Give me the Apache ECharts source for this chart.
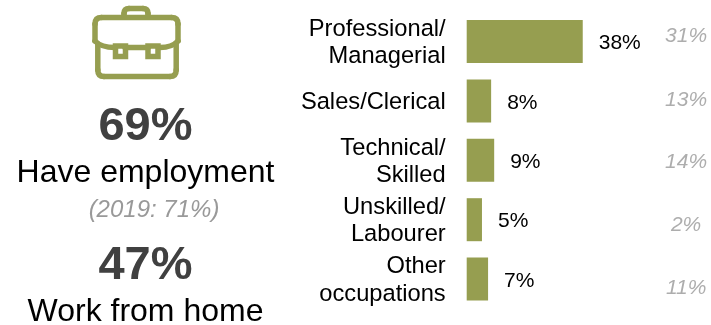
<!DOCTYPE html>
<html><head><meta charset="utf-8">
<style>html,body{margin:0;padding:0;background:#fff}#c{width:711px;height:325px}</style>
<script src="https://cdn.jsdelivr.net/npm/echarts@6/dist/echarts.min.js"></script></head>
<body><div id="c"></div>
<script>
const categories = ['Professional/\nManagerial','Sales/Clerical','Technical/\nSkilled','Unskilled/\nLabourer','Other\noccupations'];
const values2021 = [38,8,9,5,7];
const labels2019 = ['31%','13%','14%','2%','11%'];
const FONT = '"Liberation Sans", Arial, sans-serif';
const OLIVE = '#969e50';
const GREY = '#999999';
const GREY_OFFSET = [-5,-1,2,5,9];
const greyColumnX = 71.85;

const chart = echarts.init(document.getElementById('c'), null, {renderer:'canvas'});
const stroke = {stroke:OLIVE, lineWidth:5.5, fill:null, lineCap:'round', lineJoin:'round'};
const L = (x1,y1,x2,y2) => ({type:'line', shape:{x1,y1,x2,y2}, style:stroke});
const Q = (x1,y1,cpx1,cpy1,x2,y2) => ({type:'bezierCurve', shape:{x1,y1,cpx1,cpy1,x2,y2}, style:stroke});
function t(text,cy,o,x){ return {type:'text', x:x||145.5, y:cy, style:Object.assign({text, font:'32px '+FONT, fill:'#000', align:'center', verticalAlign:'middle'},o||{})}; }

chart.setOption({
  animation:false,
  grid:{left:466.7, top:11.8, width:246.4, height:297, containLabel:false},
  xAxis:{type:'value', min:0, max:80, show:false},
  yAxis:{type:'category', inverse:true, data:categories,
    axisLine:{show:false}, axisTick:{show:false},
    axisLabel:{interval:0, hideOverlap:false, margin:21, align:'right',
      formatter:v=>v.split('\n').map(s=>'{a|'+s+'}').join('\n'),
      rich:{a:{fontFamily:FONT, fontSize:23.7, lineHeight:27.5, padding:[3,0,0,0], color:'#000', align:'right'}}}},
  series:[
    {type:'bar', data:values2021, barWidth:43, itemStyle:{color:OLIVE},
     label:{show:true, position:'right', distance:16, offset:[0,2], formatter:'{c}%', fontFamily:FONT, fontSize:21, color:'#000'}},
    {type:'scatter', symbolSize:1, itemStyle:{color:'transparent'}, silent:true,
     data:labels2019.map((l,i)=>({value:[greyColumnX,i], label:{offset:[0,GREY_OFFSET[i]], formatter:l}})),
     label:{show:true, position:'inside', fontFamily:FONT, fontSize:21, fontStyle:'italic', color:GREY}}
  ],
  graphic:[
    {type:'group', silent:true, children:[
      // lid
      L(95,24,95,41), Q(95,24,95,17.5,101.5,17.5), L(101.5,17.5,171.5,17.5), Q(171.5,17.5,178,17.5,178,24), L(178,24,178,41),
      Q(95,41,101,47.5,115,47.5), Q(178,41,172,47.5,160,47.5), L(125,47.5,148,47.5),
      // handle
      L(124,16,124,13.5), Q(124,13.5,124,8.5,129,8.5), L(129,8.5,143,8.5), Q(143,8.5,148,8.5,148,13.5), L(148,13.5,148,16),
      // body
      L(97.8,44,97.8,70), Q(97.8,70,97.8,76.5,104,76.5), L(104,76.5,170,76.5), Q(170,76.5,176.2,76.5,176.2,70), L(176.2,70,176.2,44),
      // clasps
      {type:'rect', shape:{x:115.5,y:46,width:10,height:10.5}, style:Object.assign({},stroke,{lineCap:'butt',lineJoin:'miter'})},
      {type:'rect', shape:{x:148,y:46,width:10,height:10.5}, style:Object.assign({},stroke,{lineCap:'butt',lineJoin:'miter'})}
    ]},
    t('69%',127,{font:'bold 47px '+FONT, fill:'#404040'}),
    t('Have employment',173),
    t('(2019: 71%)',210,{font:'italic 24px '+FONT, fill:GREY},154),
    t('47%',266,{font:'bold 47px '+FONT, fill:'#404040'}),
    t('Work from home',312)
  ]
});
</script></body></html>
